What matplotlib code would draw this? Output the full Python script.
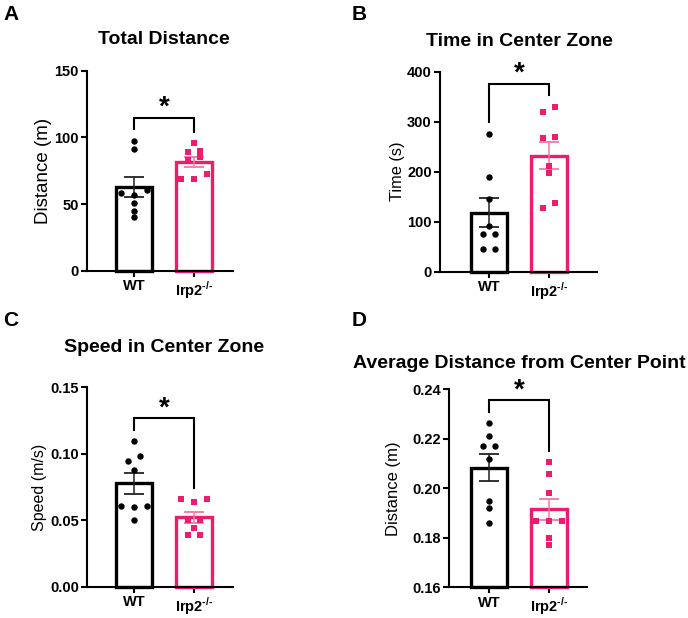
import numpy as np
import matplotlib
matplotlib.use('Agg')
import matplotlib.pyplot as plt

plt.rcParams['font.family'] = ['Liberation Sans', 'DejaVu Sans']
plt.rcParams['mathtext.fontset'] = 'custom'
plt.rcParams['mathtext.rm'] = 'Liberation Sans:bold'
plt.rcParams['mathtext.bf'] = 'Liberation Sans:bold'

# ---------------------------
# data
# ---------------------------
groups = ['WT', 'Irp2$^{\\text{-/-}}$']

# A: total distance (m)
dist_wt = [97.5, 91.5, 60.5, 58, 56.5, 51, 45, 40]
dist_ko = [95.5, 90, 89, 85.5, 83, 72.5, 69, 68.5]
# B: time in center zone (s)
time_wt = [276, 189, 145, 91, 76, 76, 46, 46]
time_ko = [330, 320, 270, 266.7, 212, 197, 136.7, 126.7]
# C: speed in center zone (m/s)
speed_wt = [0.1095, 0.0985, 0.0945, 0.088, 0.061, 0.0603, 0.061, 0.0505]
speed_ko = [0.0658, 0.0637, 0.0658, 0.050, 0.050, 0.0438, 0.0388, 0.0388]
# D: average distance from center point (m)
avgd_wt = [0.2263, 0.2213, 0.2172, 0.2172, 0.2117, 0.195, 0.1919, 0.1858]
avgd_ko = [0.2106, 0.2057, 0.198, 0.1869, 0.1869, 0.1869, 0.180, 0.177]

titles = ['Total Distance', 'Time in Center Zone', 'Speed in Center Zone',
          'Average Distance from Center Point']
ylabels = ['Distance (m)', 'Time (s)', 'Speed (m/s)', 'Distance (m)']
yticks = [[0, 50, 100, 150], [0, 100, 200, 300, 400],
          [0.00, 0.05, 0.10, 0.15], [0.16, 0.18, 0.20, 0.22, 0.24]]
ytick_fmt = ['{:.0f}', '{:.0f}', '{:.2f}', '{:.2f}']
letters = ['A', 'B', 'C', 'D']

BLACK = '#000000'
PINK = '#EE1C6C'
PINK_ERR = '#F27AA6'

W, H = 688, 618
fig = plt.figure(figsize=(W / 100, H / 100), dpi=100)

# panel boxes in pixels: left, right, top, bottom, px of WT bar centre
boxes = [(87.3, 233, 70.7, 270.7, 134),
         (440, 597, 71.7, 271.7, 489),
         (87.3, 233, 387.3, 586.7, 134),
         (449.3, 587, 389.3, 587.3, 489)]
title_y = [39, 41, 347, 363]
title_dx = [4, 1, 4, 1]
ylabel_size = [13.5, 11.8, 11.5, 12]
ylabel_pad = [1.5, 1.5, 2.5, 8]
letter_xy = [(3, 15), (352, 15), (3, 320), (352, 320)]
PX_PER_X = 60.0


def swarm(vals, px_per_unit, gap_px=6, step=0.21):
    # simple row-based swarm: close values share a row, spread symmetrically
    vals = np.asarray(vals)
    order = np.argsort(vals, kind='stable')
    offs = np.zeros(len(vals))
    rows = []
    for i in order:
        if rows and (vals[i] - vals[rows[-1][0]]) * px_per_unit < gap_px:
            rows[-1].append(i)
        else:
            rows.append([i])
    for row in rows:
        n = len(row)
        if n % 2:
            slots = [0] + [s * k for k in range(1, n // 2 + 1) for s in (-1, 1)]
        else:
            slots = [s * (k - 0.5) for k in range(1, n // 2 + 1) for s in (-1, 1)]
        for i, s in zip(row, slots):
            offs[i] = s * step
    return offs


data = [(dist_wt, dist_ko), (time_wt, time_ko),
        (speed_wt, speed_ko), (avgd_wt, avgd_ko)]

for k, (wt, ko) in enumerate(data):
    l, r, t, b, c0 = boxes[k]
    ax = fig.add_axes([l / W, 1 - b / H, (r - l) / W, (b - t) / H])
    y0, y1 = yticks[k][0], yticks[k][-1]
    ax.set_ylim(y0, y1)
    ax.set_xlim((l - c0) / PX_PER_X, (r - c0) / PX_PER_X)
    px_per_unit = (b - t) / (y1 - y0)
    dpp = 1 / px_per_unit

    for j, (vals, col, ecol, mk) in enumerate([(wt, BLACK, '#222222', 'o'),
                                                (ko, PINK, PINK_ERR, 's')]):
        vals = np.asarray(vals)
        mean = vals.mean()
        sem = vals.std(ddof=1) / np.sqrt(len(vals))
        ax.bar(j, mean - y0, bottom=y0, width=0.59, facecolor='white',
               edgecolor=col, linewidth=2.4, zorder=2, clip_on=False)
        ax.errorbar(j, mean, yerr=sem, fmt='none', ecolor=ecol,
                    elinewidth=1.1, capsize=7.5, capthick=1.3, zorder=3)
        xs = j + swarm(vals, px_per_unit)
        ax.plot(xs, vals, linestyle='none', marker=mk, markersize=4.6,
                color=col, markeredgewidth=0, zorder=4)

    # significance bracket
    leg_wt = max(wt) + 11.5 * dpp
    leg_ko = max(ko) + 11.5 * dpp
    top = max(max(wt), max(ko)) + 23 * dpp
    ax.plot([0, 0, 1, 1], [leg_wt, top, top, leg_ko], color=BLACK,
            linewidth=1.5, solid_joinstyle='miter', clip_on=False, zorder=5)
    ax.text(0.5, top - 3 * dpp, '*', ha='center', va='bottom',
            fontsize=20, fontweight='bold', clip_on=False)

    for side in ['top', 'right']:
        ax.spines[side].set_visible(False)
    for side in ['left', 'bottom']:
        ax.spines[side].set_linewidth(1.5)
    ax.set_yticks(yticks[k])
    ax.set_yticklabels([ytick_fmt[k].format(v) for v in yticks[k]],
                       fontsize=10.5, fontweight='bold')
    ax.set_xticks([0, 1])
    ax.set_xticklabels(groups, fontsize=10.5, fontweight='bold')
    ax.tick_params(axis='both', length=4, width=1.5, pad=2)
    ax.set_ylabel(ylabels[k], fontsize=ylabel_size[k], labelpad=ylabel_pad[k])

    fig.text(((l + r) / 2 + title_dx[k]) / W, 1 - title_y[k] / H, titles[k],
             ha='center', va='center', fontsize=14, fontweight='bold')
    lx, ly = letter_xy[k]
    fig.text(lx / W, 1 - ly / H, letters[k], ha='left', va='center',
             fontsize=15, fontweight='bold')

fig.savefig('out.png', dpi=100)
